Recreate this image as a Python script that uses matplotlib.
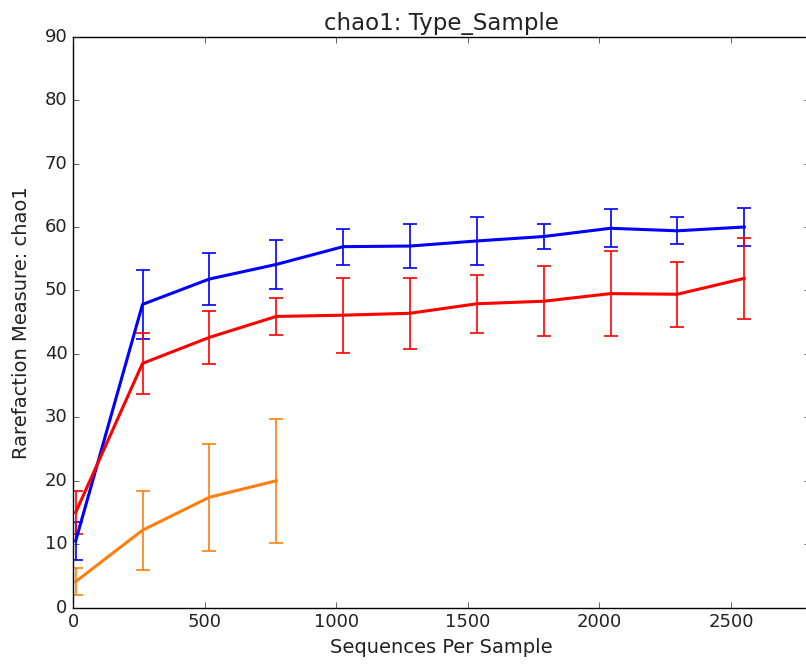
import matplotlib
matplotlib.use("Agg")
import matplotlib.pyplot as plt

plt.style.use("classic")
plt.rcParams['font.family'] = ['DejaVu Sans']
plt.rcParams['text.color'] = '#222222'
plt.rcParams['axes.labelcolor'] = '#222222'
plt.rcParams['xtick.color'] = '#222222'
plt.rcParams['ytick.color'] = '#222222'

seqs = [10, 264, 518, 772, 1026, 1280, 1534, 1788, 2042, 2296, 2550]

blue_mean = [10.5, 47.8, 51.8, 54.1, 56.9, 57.0, 57.8, 58.5, 59.8, 59.4, 60.0]
blue_err = [3.0, 5.4, 4.1, 3.9, 2.85, 3.5, 3.8, 2.0, 3.0, 2.1, 3.0]

red_mean = [15.0, 38.5, 42.6, 45.9, 46.1, 46.4, 47.9, 48.3, 49.5, 49.4, 51.9]
red_err = [3.4, 4.75, 4.2, 2.9, 5.9, 5.6, 4.6, 5.5, 6.75, 5.1, 6.4]

orange_seqs = [10, 264, 518, 772]
orange_mean = [4.1, 12.2, 17.4, 20.0]
orange_err = [2.1, 6.2, 8.4, 9.8]

fig = plt.figure(figsize=(8.06, 6.67), dpi=100, facecolor='white')
ax = fig.add_axes([0.0906, 0.089, 1.005 - 0.0906, 0.945 - 0.089])

for x, m, e, c in [(seqs, blue_mean, blue_err, 'blue'),
                   (seqs, red_mean, red_err, 'red'),
                   (orange_seqs, orange_mean, orange_err, '#ff7f0e')]:
    ax.errorbar(x, m, yerr=e, color=c, ecolor=c, lw=2.2, elinewidth=1.2,
                capsize=5, capthick=1.2)

ax.set_xlim(0, 2800)
ax.set_ylim(0, 90)
ax.set_xticks([0, 500, 1000, 1500, 2000, 2500])
ax.set_yticks(range(0, 91, 10))
ax.set_xlabel('Sequences Per Sample', fontsize=14)
ax.set_ylabel('Rarefaction Measure: chao1', fontsize=14, labelpad=10)
ax.set_title('chao1: Type_Sample', fontsize=16.5)
ax.tick_params(labelsize=13)

fig.savefig('out.png', dpi=100, facecolor='white')
